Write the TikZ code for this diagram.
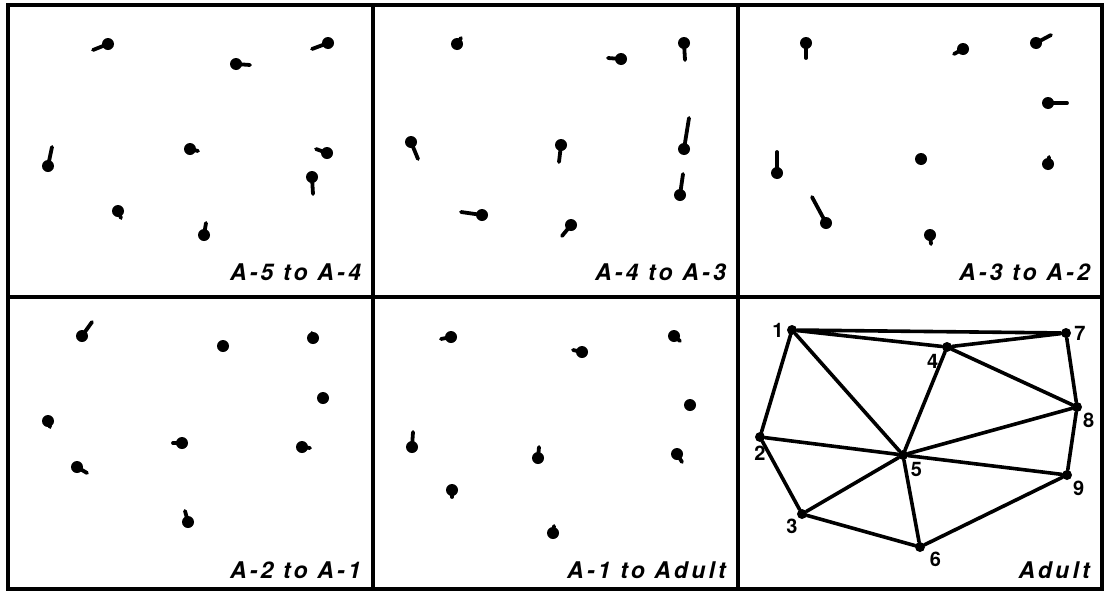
\documentclass[tikz,border=0pt]{standalone}
\usepackage{fontspec}
\setsansfont{TeX Gyre Heros}
\usetikzlibrary{positioning}

\begin{document}
\begin{tikzpicture}[x=1pt, y=-1pt, line cap=round,
  tl/.style={font=\sffamily\bfseries\itshape\fontsize{23}{23}\selectfont\addfontfeatures{LetterSpace=14}, anchor=base east, inner sep=0pt},
  tail/.style={line width=3.8pt},
  v/.style={circle, fill, inner sep=0pt, minimum size=10pt},
  num/.style={font=\sffamily\bfseries\fontsize{20}{20}\selectfont, inner sep=0pt},
  e/.style={line width=3.6pt}]
\useasboundingbox (0,0) rectangle (1105,592);
\draw[line width=3.2pt, line cap=rect] (8,5) rectangle (1102,589) (373,5) -- (373,589) (738,5) -- (738,589) (8,297) -- (1102,297);
\foreach \x/\y/\u/\v in {108/44/93/50, 236/64/250/65, 328/43/312/49, 48/166/52/147, 190/149/198/151, 327/153/316/149, 312/177/313/194, 118/211/121/218, 204/235/206/223,
  457/44/461/38, 621/59/608/58, 684/43/685/60, 411/142/418/159, 561/145/559/162, 684/149/689/118, 680/195/683/174, 482/215/461/212, 571/225/562/236,
  806/43/806/58, 963/49/954/54, 1036/43/1051/35, 1048/103/1067/103, 777/173/777/152, 921/159/924/159, 1048/164/1049/157, 826/223/812/197, 930/235/931/244,
  82/336/92/322, 223/346/223/349, 313/338/312/333, 323/398/323/398, 48/421/50/427, 182/443/173/443, 302/447/310/448, 77/467/87/473, 188/522/185/511,
  451/337/441/339, 582/352/573/350, 674/336/680/341, 690/405/690/405, 412/447/413/432, 538/458/539/447, 677/454/682/462, 452/490/452/497, 553/533/554/526}
  {\draw[tail] (\x,\y) -- (\u,\v); \fill (\x,\y) circle (6pt);}
\node[tl] (t1) at (361,280) {A-5 to A-4};
\node[tl] (t2) at (726,280) {A-4 to A-3};
\node[tl] (t3) at (1090,280) {A-3 to A-2};
\node[tl] (t4) at (361,578) {A-2 to A-1};
\node[tl] (t5) at (726,578) {A-1 to Adult};
\node[tl] (t6) at (1090,578) {Adult};
\node[v] (n1) at (792,330) {};
\node[v] (n2) at (760,437) {};
\node[v] (n3) at (802,514) {};
\node[v] (n4) at (947,347) {};
\node[v] (n5) at (903,455) {};
\node[v] (n6) at (920,547) {};
\node[v] (n7) at (1066,333) {};
\node[v] (n8) at (1077,407) {};
\node[v] (n9) at (1067,475) {};
\node[num, left=3pt of n1] {1};
\node[num, below=4pt of n2] {2};
\node[num, below left=1pt of n3] {3};
\node[num, below left=3pt and 5pt of n4] {4};
\node[num, below right=3pt and 4pt of n5] {5};
\node[num, below right=1pt and 6pt of n6] {6};
\node[num, right=3pt of n7] {7};
\node[num, below right=3pt of n8] {8};
\node[num, below right=3pt of n9] {9};
\draw[e] (n1)--(n7) (n1)--(n4) (n4)--(n7) (n1)--(n2) (n1)--(n5) (n4)--(n5) (n4)--(n8) (n7)--(n8) (n2)--(n5) (n5)--(n8);
\draw[e] (n2)--(n3) (n3)--(n5) (n5)--(n9) (n8)--(n9) (n3)--(n6) (n5)--(n6) (n6)--(n9);
\end{tikzpicture}
\end{document}
